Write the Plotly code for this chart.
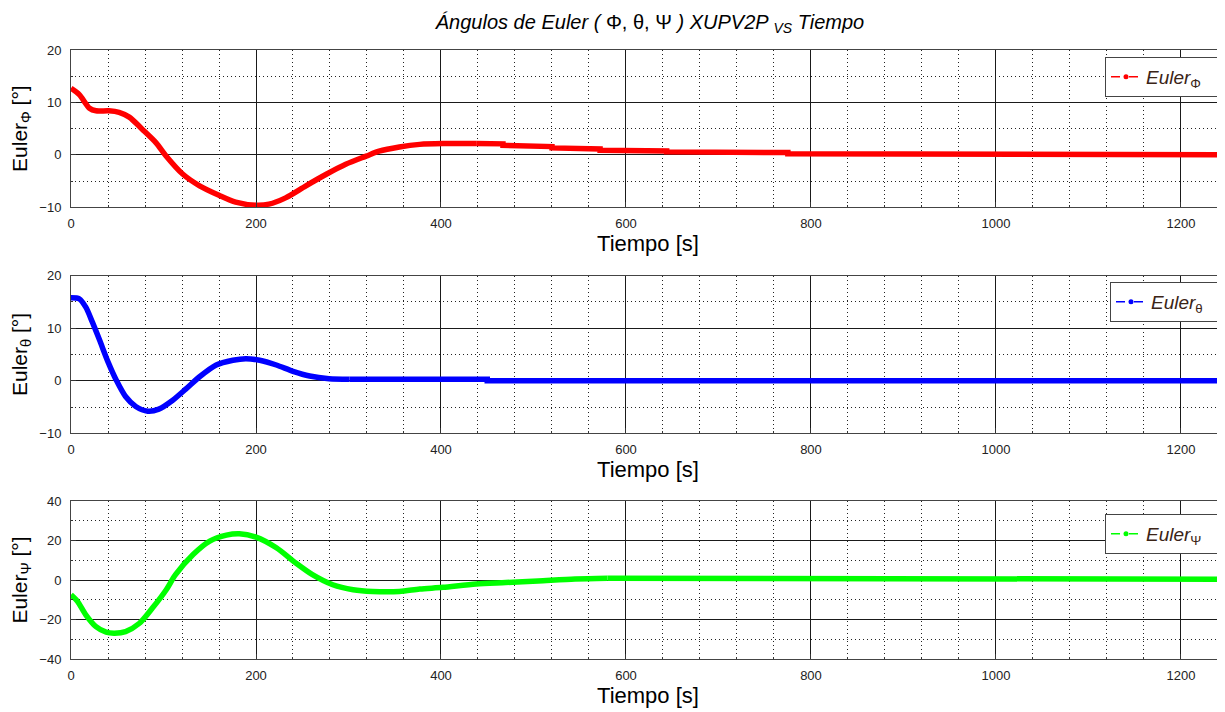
import plotly.graph_objects as go

# ---- data ----
t_phi = [0, 9, 20, 27, 41, 52, 63, 77, 92, 103, 121, 139, 160, 178, 200, 214, 232, 254,
         276, 297, 319, 333, 355, 377, 402, 438, 467, 467, 494, 494, 520, 520, 545, 545,
         572, 572, 604, 604, 644, 644, 694, 694, 775, 775, 1238, 1244, 1248]
phi = [12.7, 11.5, 8.9, 8.4, 8.4, 8.1, 7.2, 4.9, 2.3, -0.25, -3.7, -5.9, -7.7, -9.0, -9.6,
       -9.4, -8.2, -5.9, -3.7, -1.8, -0.25, 0.7, 1.5, 2.0, 2.15, 2.15, 2.1, 1.83, 1.83, 1.58,
       1.58, 1.33, 1.33, 1.14, 1.14, 0.88, 0.88, 0.76, 0.76, 0.57, 0.57, 0.44, 0.44, 0.22,
       0.22, 0.0, -0.1]

t_theta = [0, 9, 16, 23, 31, 40, 49, 59, 70, 83, 95, 110, 124, 139, 157, 175, 189, 204,
           222, 240, 258, 279, 301, 450, 450, 841, 841, 1055, 1055, 1248]
theta = [15.8, 15.6, 14.0, 11.2, 7.7, 3.6, 0.1, -3.0, -4.9, -5.8, -5.4, -3.7, -1.6, 0.76,
         3.0, 3.9, 4.2, 3.9, 3.0, 1.8, 0.9, 0.4, 0.3, 0.3, 0.0, 0.0, 0.25, 0.25, 0.0, 0.0]

t_psi = [0, 7, 16, 27, 38, 47, 59, 74, 88, 103, 113, 132, 150, 168, 182, 200, 222, 243,
         261, 283, 305, 326, 355, 377, 402, 438, 470, 505, 545, 580, 907, 907, 1248]
psi = [-7.5, -10.8, -17.6, -23.6, -26.4, -26.9, -26.1, -21.9, -14.2, -4.9, 2.7, 12.9, 19.7,
       22.7, 23.4, 21.7, 16.3, 8.6, 2.7, -2.4, -4.9, -5.8, -5.8, -4.6, -3.7, -2.0, -1.3,
       -0.5, 0.5, 0.9, 0.9, 0.4, 0.4]

# index where each series turns into its quantised (stepped) tail
tail_start = [25, 22, 29]

x_ticks = [0, 200, 400, 600, 800, 1000, 1200]
y_ranges = [[-10, 20], [-10, 20], [-40, 40]]
y_dticks = [10, 10, 20]
y_minor = [5, 5, 10]
colors = ["#ff0000", "#0000ff", "#00ff00"]
sym = ["Φ", "θ", "Ψ"]

FONT = "Liberation Sans, Arial, sans-serif"
OFF = 8                      # page body margin of the HTML page
W, H = 1225 - OFF, 712 - OFF
ML, MR, MT, MB = 71 - OFF, 0, 50 - OFF, 53

fig = go.Figure()

series = [(t_phi, phi), (t_theta, theta), (t_psi, psi)]
for i, (tx, ty) in enumerate(series):
    ax = "" if i == 0 else str(i + 1)
    k = tail_start[i]
    # smooth transient
    fig.add_trace(go.Scatter(x=tx[:k + 1], y=ty[:k + 1], mode="lines",
                             xaxis="x" + ax, yaxis="y" + ax,
                             line=dict(color=colors[i], width=5.5, shape="spline",
                                       smoothing=0.8),
                             showlegend=False, hoverinfo="x+y"))
    # stepped steady-state tail
    fig.add_trace(go.Scatter(x=tx[k:], y=ty[k:], mode="lines",
                             xaxis="x" + ax, yaxis="y" + ax,
                             line=dict(color=colors[i], width=5.5),
                             showlegend=False, hoverinfo="x+y"))
    # legend entry (MATLAB-style '--.' line)
    fig.add_trace(go.Scatter(x=[None], y=[None], mode="lines+markers", xaxis="x" + ax,
                             yaxis="y" + ax, legend="legend" + ax,
                             name="<i>Euler</i><sub>%s</sub>&nbsp;&nbsp;" % sym[i],
                             line=dict(color=colors[i], width=1.5, dash="dash"),
                             marker=dict(color=colors[i], size=5)))

# plot-box pixel positions (top, bottom) of each panel, in page pixels
boxes = [(50, 207.3), (275.7, 433.3), (501, 659)]
ph = H - MT - MB
doms = [[(H - MB - (b - OFF)) / ph, (H - MB - (t - OFF)) / ph] for t, b in boxes]
leg_left = [1105, 1110, 1105]
leg_top = [57, 282, 514]

layout = dict(
    width=W, height=H,
    paper_bgcolor="white", plot_bgcolor="white",
    margin=dict(l=ML, r=MR, t=MT, b=MB, autoexpand=False),
    font=dict(family=FONT, color="#222222", size=13),
    title=dict(text="<i>Ángulos de Euler (</i> Φ, θ, Ψ <i>) XUPV2P <sub>VS</sub> Tiempo</i>",
               xref="container", x=(650 - OFF) / W, xanchor="center",
               yref="container", y=1 - (22 - OFF) / H, yanchor="middle",
               font=dict(family=FONT, size=20, color="#000000")),
)

for i in range(3):
    ax = "" if i == 0 else str(i + 1)
    layout["xaxis" + ax] = dict(
        domain=[0, 1], range=[0, 1247.6], anchor="y" + ax, automargin=False,
        tickvals=x_ticks, ticks="inside", ticklen=5, tickcolor="#333333",
        showline=True, linecolor="#444444", linewidth=1, mirror=True,
        showgrid=True, gridcolor="#1a1a1a", gridwidth=1, zeroline=False,
        ticklabelstandoff=4,
        tickfont=dict(family=FONT, size=13, color="#222222"),
        minor=dict(dtick=40, tick0=0, showgrid=True, gridcolor="#222222",
                   griddash="1px,3px", gridwidth=1, ticks="inside", ticklen=2,
                   tickcolor="#333333"),
        title=dict(text="Tiempo [s]", standoff=1,
                   font=dict(family=FONT, size=22, color="#000000")),
    )
    layout["yaxis" + ax] = dict(
        domain=doms[i], range=y_ranges[i], anchor="x" + ax, automargin=False,
        dtick=y_dticks[i], tick0=0, ticks="inside", ticklen=5, tickcolor="#333333",
        showline=True, linecolor="#444444", linewidth=1, mirror=False,
        showgrid=True, gridcolor="#1a1a1a", gridwidth=1, zeroline=False,
        ticklabelstandoff=6,
        tickfont=dict(family=FONT, size=13, color="#222222"),
        minor=dict(dtick=y_minor[i], tick0=0, showgrid=True, gridcolor="#222222",
                   griddash="1px,3px", gridwidth=1, ticks="inside", ticklen=2,
                   tickcolor="#333333"),
        title=dict(text="Euler<sub>%s</sub> [°]" % sym[i], standoff=7,
                   font=dict(family=FONT, size=21, color="#000000")),
    )
    layout["legend" + ax] = dict(
        xref="container", x=(leg_left[i] - OFF) / W, xanchor="left",
        yref="container", y=1 - (leg_top[i] - OFF) / H, yanchor="top",
        bgcolor="white", bordercolor="#444444", borderwidth=1,
        font=dict(family=FONT, size=19, color="#3b2416"),
        itemwidth=30,
    )

fig.update_layout(**layout)
fig.write_html("out.html")
